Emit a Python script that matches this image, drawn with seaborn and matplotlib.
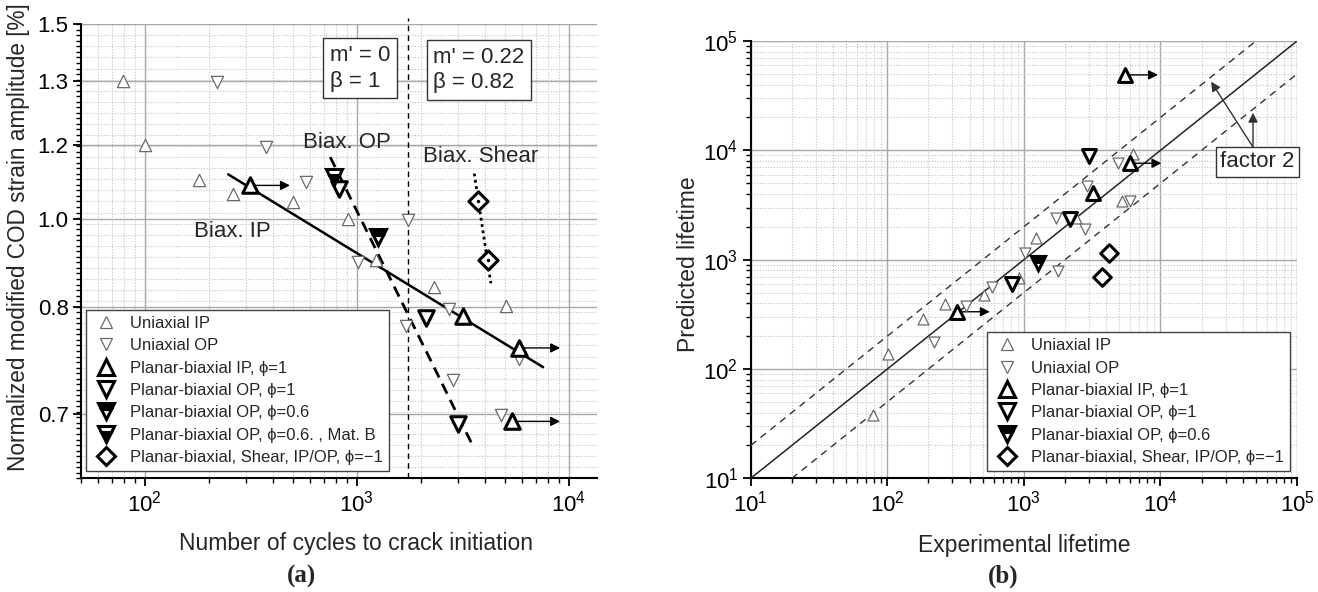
import numpy as np
import matplotlib
matplotlib.use("Agg")
import matplotlib.pyplot as plt
from matplotlib.lines import Line2D
from matplotlib.ticker import LogLocator, FixedLocator, NullFormatter
import seaborn as sns

sns.set_theme(style="white")
plt.rcParams["font.family"] = ["Liberation Sans", "DejaVu Sans"]
plt.rcParams["mathtext.fontset"] = "custom"
plt.rcParams["mathtext.rm"] = "Liberation Sans"
plt.rcParams["mathtext.it"] = "Liberation Sans:italic"
plt.rcParams["mathtext.bf"] = "Liberation Sans:bold"

# ---------------- data: panel (a) ----------------
uni_ip_n = [78.5, 100, 180, 259, 499, 909, 1230, 2317, 5035]
uni_ip_e = [1.30, 1.20, 1.102, 1.065, 1.043, 1.001, 0.901, 0.842, 0.801]
uni_op_n = [219, 374, 577, 1009, 1733, 1703, 2723, 2825, 4773, 5823]
uni_op_e = [1.297, 1.195, 1.096, 0.898, 0.997, 0.780, 0.798, 0.729, 0.699, 0.749]
bi_ip_n = [314, 3148, 5823, 5406]
bi_ip_e = [1.087, 0.791, 0.759, 0.694]
bi_ip_runout_to = [483, None, 9080, 9080]
bi_op_n = [827, 2117, 2980]
bi_op_e = [1.078, 0.788, 0.692]
bi_op06_n = [1253]
bi_op06_e = [0.955]
bi_op06b_n = [783]
bi_op06b_e = [1.110]
shear_n = [3704, 4129]
shear_e = [1.047, 0.903]
fit_ip_n = [247, 7550]
fit_ip_e = [1.117, 0.741]
fit_op_n = [748, 3508]
fit_op_e = [1.165, 0.675]
fit_sh_n = [3574, 4280]
fit_sh_e = [1.119, 0.850]
n_transition = 1750
ytick_labels_a = [0.7, 0.8, 1.0, 1.2, 1.3, 1.5]

# ---------------- data: panel (b) ----------------
b_uni_ip_exp = [78.9, 101.6, 181, 264, 509, 922, 1236, 2427, 5260, 6295]
b_uni_ip_pred = [37.9, 137, 285, 394, 475, 676, 1570, 2393, 3470, 9270]
b_uni_op_exp = [220, 376, 589, 1016, 1778, 1731, 2794, 2898, 4900, 5960]
b_uni_op_pred = [175, 377, 566, 1159, 793, 2393, 1897, 4720, 7700, 3470]
b_bi_ip_exp = [325, 3206, 6030, 5470]
b_bi_ip_pred = [334, 4055, 7620, 49000]
b_bi_ip_runout_to = [563, None, 10160, 9590]
b_bi_op_exp = [820, 2167, 3000]
b_bi_op_pred = [600, 2345, 8900]
b_bi_op06_exp = [1270]
b_bi_op06_pred = [927]
b_shear_exp = [3760, 4198]
b_shear_pred = [698, 1159]
diag = [10, 1e5]
factor = 2

# ---------------- styles ----------------
GRAY = "#6a6a6a"
small_kw = dict(s=78, facecolor="white", edgecolor=GRAY, linewidth=0.9, legend=False, zorder=4)
big_kw = dict(s=125, facecolor="white", edgecolor="black", linewidth=2.2, legend=False, zorder=5)

fig = plt.figure(figsize=(13.18, 5.92), dpi=100)
ax1 = fig.add_axes([0.0615, 0.192, 0.3917, 0.7674])
ax2 = fig.add_axes([0.5696, 0.192, 0.4145, 0.7387])

# custom y scale for panel (a): tick labels sit on a log axis of an internal unit
lab_ext = np.array([0.55] + ytick_labels_a + [1.7])
u_ext = np.array([2.5, 4, 5, 6, 7, 8, 9, 10])


def fwd(v):
    return np.log10(np.interp(np.asarray(v, float), lab_ext, u_ext))


def inv(p):
    return np.interp(10 ** np.asarray(p, float), u_ext, lab_ext)


for ax in (ax1, ax2):
    ax.set_facecolor("white")
    for s in ("top", "right"):
        ax.spines[s].set_visible(False)
    for s in ("left", "bottom"):
        ax.spines[s].set_color("black")
        ax.spines[s].set_linewidth(1.5)
    ax.tick_params(which="major", direction="out", length=6, width=1.3, colors="black",
                   labelsize=16, pad=3, left=True, bottom=True)
    ax.tick_params(which="minor", direction="out", length=3.5, width=1.0, colors="black",
                   left=True, bottom=True)

# ---------------- panel (a) ----------------
ax1.set_xscale("log")
ax1.set_yscale("function", functions=(fwd, inv))
ax1.set_xlim(50, 13600)
ax1.set_ylim(0.65, 1.5)
ax1.set_yticks(ytick_labels_a)
ax1.set_yticklabels([f"{v:.1f}" for v in ytick_labels_a])
ax1.yaxis.set_minor_locator(FixedLocator(inv(np.arange(np.log10(3.5), np.log10(9) + 1e-9, 0.005))))
ax1.yaxis.set_minor_formatter(NullFormatter())
ax1.xaxis.set_major_locator(LogLocator(base=10, numticks=10))
ax1.xaxis.set_minor_locator(LogLocator(base=10, subs=np.arange(2, 10), numticks=20))
ax1.xaxis.set_minor_formatter(NullFormatter())
ax1.grid(which="major", color="#a8a8a8", lw=1.0, ls="-", zorder=0)
ax1.grid(which="minor", axis="x", color="#c4c4c4", lw=0.8, ls=(0, (1, 1.5)), zorder=0)
for p in np.arange(np.log10(3.5), np.log10(9), 0.01):
    ax1.axhline(inv(p), color="#c4c4c4", lw=0.8, ls=(0, (1, 1.5)), zorder=0)
ax1.set_axisbelow(True)

sns.lineplot(x=fit_ip_n, y=fit_ip_e, color="black", lw=1.8, sort=False, estimator=None, ax=ax1, zorder=3)
sns.lineplot(x=fit_op_n, y=fit_op_e, color="black", lw=2.0, ls=(0, (4, 2.5)), sort=False, estimator=None, ax=ax1, zorder=3)
sns.lineplot(x=fit_sh_n, y=fit_sh_e, color="black", lw=2.0, ls=(0, (1, 1.3)), sort=False, estimator=None, ax=ax1, zorder=3)
ax1.axvline(n_transition, ymin=0, ymax=1.013, color="black", lw=1.0, ls=(0, (4, 3)), clip_on=False, zorder=2)

sns.scatterplot(x=uni_ip_n, y=uni_ip_e, marker="^", ax=ax1, **small_kw)
sns.scatterplot(x=uni_op_n, y=uni_op_e, marker="v", ax=ax1, **small_kw)
sns.scatterplot(x=bi_ip_n, y=bi_ip_e, marker="^", ax=ax1, **big_kw)
sns.scatterplot(x=bi_op_n, y=bi_op_e, marker="v", ax=ax1, **big_kw)
ax1.plot(bi_op06_n, bi_op06_e, ls="none", marker="v", ms=11, mew=2.2, mec="black", mfc="black",
         fillstyle="top", markerfacecoloralt="white", zorder=5)
ax1.plot(bi_op06b_n, bi_op06b_e, ls="none", marker="v", ms=11, mew=2.2, mec="black", mfc="black",
         fillstyle="bottom", markerfacecoloralt="white", zorder=5)
sns.scatterplot(x=shear_n, y=shear_e, marker="D", ax=ax1, **dict(big_kw, s=95))
ax1.plot(shear_n, shear_e, ls="none", marker=".", ms=3, color="black", zorder=6)

arrow_kw = dict(arrowstyle="-|>", color="black", lw=1.0, mutation_scale=14, shrinkA=0, shrinkB=0)
for x, y, xe in zip(bi_ip_n, bi_ip_e, bi_ip_runout_to):
    if xe is not None:
        ax1.annotate("", xy=(xe, y), xytext=(x, y), arrowprops=arrow_kw, zorder=3)

box_kw = dict(boxstyle="square,pad=0.3", fc="white", ec="#333333", lw=1.0)
ax1.text(0.540, 0.9025, "m' = 0\nβ = 1", transform=ax1.transAxes, ha="center", va="center",
         fontsize=16, linespacing=1.3, multialignment="left", bbox=box_kw, zorder=6)
ax1.text(0.7705, 0.8987, "m' = 0.22\nβ = 0.82", transform=ax1.transAxes, ha="center", va="center",
         fontsize=16, linespacing=1.3, multialignment="left", bbox=box_kw, zorder=6)
ax1.text(0.515, 0.740, "Biax. OP", transform=ax1.transAxes, ha="center", va="center", fontsize=16, zorder=6)
ax1.text(0.773, 0.7095, "Biax. Shear", transform=ax1.transAxes, ha="center", va="center", fontsize=16, zorder=6)
ax1.text(0.2934, 0.5444, "Biax. IP", transform=ax1.transAxes, ha="center", va="center", fontsize=16, zorder=6)

ax1.set_xlabel("Number of cycles to crack initiation", fontsize=16.5)
ax1.xaxis.set_label_coords(0.533, -0.118)
ax1.set_ylabel("Normalized modified COD strain amplitude [%]", fontsize=16.3)
ax1.yaxis.set_label_coords(-0.099, 0.531)

h_small_up = Line2D([], [], ls="none", marker="^", ms=9, mfc="white", mec=GRAY, mew=0.9)
h_small_dn = Line2D([], [], ls="none", marker="v", ms=9, mfc="white", mec=GRAY, mew=0.9)
h_big_up = Line2D([], [], ls="none", marker="^", ms=11, mfc="white", mec="black", mew=2.2)
h_big_dn = Line2D([], [], ls="none", marker="v", ms=11, mfc="white", mec="black", mew=2.2)
h_06 = Line2D([], [], ls="none", marker="v", ms=11, mfc="black", mec="black", mew=2.2,
              fillstyle="top", markerfacecoloralt="white")
h_06b = Line2D([], [], ls="none", marker="v", ms=11, mfc="black", mec="black", mew=2.2,
               fillstyle="bottom", markerfacecoloralt="white")
h_sh = Line2D([], [], ls="none", marker="D", ms=9.5, mfc="white", mec="black", mew=2.2)

leg_kw = dict(loc="lower left", fontsize=12, frameon=True, fancybox=False, framealpha=1,
              edgecolor="#444444", borderaxespad=0, borderpad=0.35, labelspacing=0.44,
              handlelength=1.7, handletextpad=0.6)
leg1 = ax1.legend([h_small_up, h_small_dn, h_big_up, h_big_dn, h_06, h_06b, h_sh],
                  ["Uniaxial IP", "Uniaxial OP", "Planar-biaxial IP, ϕ=1", "Planar-biaxial OP, ϕ=1",
                   "Planar-biaxial OP, ϕ=0.6", "Planar-biaxial OP, ϕ=0.6. , Mat. B",
                   "Planar-biaxial, Shear, IP/OP, ϕ=−1"],
                  bbox_to_anchor=(0.0097, 0.0167), **leg_kw)
leg1.get_frame().set_linewidth(1.0)
leg1.set_zorder(10)

# ---------------- panel (b) ----------------
ax2.set_xscale("log")
ax2.set_yscale("log")
ax2.set_xlim(10, 1e5)
ax2.set_ylim(10, 1e5)
for axis in (ax2.xaxis, ax2.yaxis):
    axis.set_major_locator(LogLocator(base=10, numticks=10))
    axis.set_minor_locator(LogLocator(base=10, subs=np.arange(2, 10), numticks=20))
    axis.set_minor_formatter(NullFormatter())
ax2.grid(which="major", color="#a8a8a8", lw=1.0, ls="-", zorder=0)
ax2.grid(which="minor", color="#c4c4c4", lw=0.8, ls=(0, (1, 1.5)), zorder=0)
ax2.set_axisbelow(True)

d = np.array(diag)
sns.lineplot(x=d, y=d, color="#222222", lw=1.1, sort=False, estimator=None, ax=ax2, zorder=3)
sns.lineplot(x=d, y=d * factor, color="#333333", lw=1.0, ls=(0, (5, 4)), sort=False, estimator=None, ax=ax2, zorder=3)
sns.lineplot(x=d * factor, y=d, color="#333333", lw=1.0, ls=(0, (5, 4)), sort=False, estimator=None, ax=ax2, zorder=3)

small_kw2 = dict(small_kw, s=62)
big_kw2 = dict(big_kw, s=100)
sns.scatterplot(x=b_uni_ip_exp, y=b_uni_ip_pred, marker="^", ax=ax2, **small_kw2)
sns.scatterplot(x=b_uni_op_exp, y=b_uni_op_pred, marker="v", ax=ax2, **small_kw2)
sns.scatterplot(x=b_bi_ip_exp, y=b_bi_ip_pred, marker="^", ax=ax2, **big_kw2)
sns.scatterplot(x=b_bi_op_exp, y=b_bi_op_pred, marker="v", ax=ax2, **big_kw2)
ax2.plot(b_bi_op06_exp, b_bi_op06_pred, ls="none", marker="v", ms=10, mew=2.2, mec="black", mfc="black",
         fillstyle="top", markerfacecoloralt="white", zorder=5)
sns.scatterplot(x=b_shear_exp, y=b_shear_pred, marker="D", ax=ax2, **dict(big_kw2, s=80))

for x, y, xe in zip(b_bi_ip_exp, b_bi_ip_pred, b_bi_ip_runout_to):
    if xe is not None:
        ax2.annotate("", xy=(xe, y), xytext=(x, y), arrowprops=arrow_kw, zorder=3)

ax2.text(51400, 7830, "factor 2", ha="center", va="center", fontsize=16,
         bbox=dict(boxstyle="square,pad=0.2", fc="white", ec="#333333", lw=1.0), zorder=7)
f_kw = dict(arrowstyle="-|>", color="#333333", lw=1.0, mutation_scale=14, shrinkA=0, shrinkB=0)
ax2.annotate("", xy=(23500, 42500), xytext=(47600, 10700), arrowprops=f_kw, zorder=6)
ax2.annotate("", xy=(47600, 22100), xytext=(47600, 10700), arrowprops=f_kw, zorder=6)

ax2.set_xlabel("Experimental lifetime", fontsize=16.5)
ax2.xaxis.set_label_coords(0.5, -0.127)
ax2.set_ylabel("Predicted lifetime", fontsize=16.5)
ax2.yaxis.set_label_coords(-0.093, 0.49)

h_small_up2 = Line2D([], [], ls="none", marker="^", ms=8, mfc="white", mec=GRAY, mew=0.9)
h_small_dn2 = Line2D([], [], ls="none", marker="v", ms=8, mfc="white", mec=GRAY, mew=0.9)
leg2 = ax2.legend([h_small_up2, h_small_dn2, h_big_up, h_big_dn, h_06, h_sh],
                  ["Uniaxial IP", "Uniaxial OP", "Planar-biaxial IP, ϕ=1", "Planar-biaxial OP, ϕ=1",
                   "Planar-biaxial OP, ϕ=0.6", "Planar-biaxial, Shear, IP/OP, ϕ=−1"],
                  bbox_to_anchor=(0.432, 0.0174), **leg_kw)
leg2.get_frame().set_linewidth(1.0)
leg2.set_zorder(10)

fig.text(0.229, 0.027, "(a)", ha="center", va="center", fontsize=18, fontweight="bold",
         family=["Liberation Serif", "DejaVu Serif"])
fig.text(0.761, 0.027, "(b)", ha="center", va="center", fontsize=18, fontweight="bold",
         family=["Liberation Serif", "DejaVu Serif"])

fig.savefig("out.png", dpi=100, facecolor="white")
